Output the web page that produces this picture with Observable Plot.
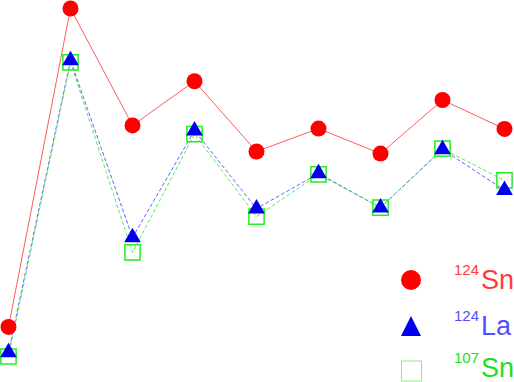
<!DOCTYPE html>
<html>
<head>
<meta charset="utf-8">
<script src="https://cdn.jsdelivr.net/npm/d3@7"></script>
<script src="https://cdn.jsdelivr.net/npm/@observablehq/plot@0.6"></script>
<style>
  html, body { margin: 0; padding: 0; background: #fff; }
  #chart { position: relative; width: 514px; height: 382px; overflow: hidden; }
  #chart svg { position: absolute; left: 0; top: 0; }
</style>
</head>
<body>
<div id="chart"></div>
<script>
// Data (arbitrary units)
const points = [1, 2, 3, 4, 5, 6, 7, 8, 9];
const sn124 = [0.85, 10.0, 6.64, 7.91, 5.89, 6.55, 5.83, 7.37, 6.54];
const la124 = [0.12, 8.51, 3.42, 6.49, 4.25, 5.26, 4.28, 5.95, 4.78];
const sn107 = [0.00, 8.45, 2.99, 6.39, 4.02, 5.23, 4.28, 5.97, 5.06];
const seriesNames = ["124Sn", "124La", "107Sn"];
const seriesMass = ["124", "124", "107"];
const seriesElem = ["Sn", "La", "Sn"];

const toRows = (vals) => points.map((p, i) => ({x: p, y: vals[i]}));
const dSn124 = toRows(sn124), dLa124 = toRows(la124), dSn107 = toRows(sn107);

const plot = Plot.plot({
  width: 514,
  height: 382,
  marginLeft: 8,
  marginRight: 10,
  marginTop: 8,
  marginBottom: 26,
  x: {domain: [1, 9], axis: null},
  y: {domain: [0, 10], axis: null},
  style: {background: "transparent", overflow: "visible"},
  marks: [
    Plot.line(dSn124, {x: "x", y: "y", stroke: "#ff5a5a", strokeWidth: 1}),
    Plot.line(dLa124, {x: "x", y: "y", stroke: "#6464ff", strokeWidth: 1, strokeDasharray: "3,3"}),
    Plot.line(dSn107, {x: "x", y: "y", stroke: "#5ae85a", strokeWidth: 1, strokeDasharray: "3,3"}),
    Plot.dot(dSn107, {x: "x", y: "y", symbol: "square", r: 8.6, stroke: "#22ee22", strokeWidth: 1.5, fill: "none"}),
    Plot.dot(dLa124, {x: "x", y: "y", symbol: "triangle", r: 6.2, fill: "#0000ee", stroke: "none"}),
    Plot.dot(dSn124, {x: "x", y: "y", symbol: "circle", r: 8, fill: "#ff0000", stroke: "none"})
  ]
});
document.getElementById("chart").appendChild(plot);

// Legend overlay
const colors = ["#ff3a3a", "#5050ff", "#22dd22"];
const symFill = ["#ff0000", "#0000ee", "none"];
const legend = d3.select("#chart").append("svg")
  .attr("width", 514).attr("height", 382)
  .style("overflow", "visible");
const rowY = [280, 326, 371];
const baseY = [289, 335, 377];
seriesNames.forEach((name, i) => {
  const g = legend.append("g");
  if (i === 0) {
    g.append("circle").attr("cx", 411).attr("cy", rowY[i]).attr("r", 10).attr("fill", symFill[i]);
  } else if (i === 1) {
    g.append("path").attr("d", `M411,${rowY[i]-10}L421,${rowY[i]+10}L401,${rowY[i]+10}Z`).attr("fill", symFill[i]);
  } else {
    g.append("rect").attr("x", 401.5).attr("y", rowY[i]-10).attr("width", 20).attr("height", 20)
      .attr("fill", "none").attr("stroke", "#88ee88").attr("stroke-width", 1);
  }
  const t = g.append("text")
    .attr("fill", colors[i])
    .style("font-family", "'Liberation Sans', Arial, sans-serif");
  t.append("tspan").attr("x", 454).attr("y", baseY[i] - 14).attr("font-size", 15).text(seriesMass[i]);
  t.append("tspan").attr("x", 481).attr("y", baseY[i]).attr("font-size", 27).text(seriesElem[i]);
});
</script>
</body>
</html>
